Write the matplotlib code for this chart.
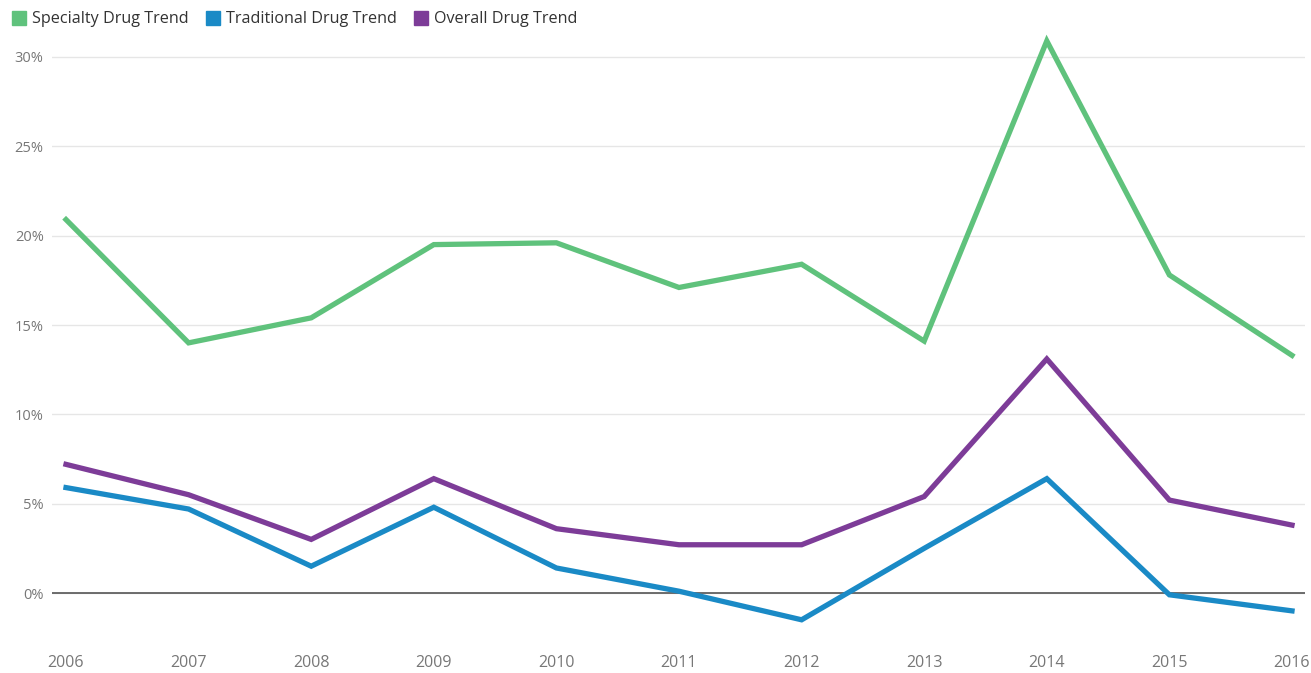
import numpy as np
import matplotlib.pyplot as plt
from matplotlib.lines import Line2D

# values (percent)
years = [2006, 2007, 2008, 2009, 2010, 2011, 2012, 2013, 2014, 2015, 2016]
specialty = [20.9, 14.0, 15.4, 19.5, 19.6, 17.1, 18.4, 14.1, 30.9, 17.8, 13.3]
traditional = [5.9, 4.7, 1.5, 4.8, 1.4, 0.1, -1.5, 2.5, 6.4, -0.1, -1.0]
overall = [7.2, 5.5, 3.0, 6.4, 3.6, 2.7, 2.7, 5.4, 13.1, 5.2, 3.8]
series_names = ["Specialty Drug Trend", "Traditional Drug Trend", "Overall Drug Trend"]
colors = ["#5fc27c", "#1a8ac6", "#7d3c98"]

plt.rcParams['font.family'] = ['Open Sans', 'DejaVu Sans']

fig = plt.figure(figsize=(13.11, 6.73), dpi=100)
ax = fig.add_axes([52/1311, 1-645/673, (1305-52)/1311, (645-30)/673])

for vals, c in zip([specialty, traditional, overall], colors):
    ax.plot(years, vals, color=c, lw=3.8, solid_joinstyle='miter', zorder=3)

ax.set_xlim(2006 - 14/122.6, 2016 + 13/122.6)
ax.set_ylim(-(645-593)/17.867, 30 + (57-30)/17.867)

ax.set_yticks(np.arange(0, 31, 5))
ax.set_yticklabels(["%d%%" % v for v in range(0, 31, 5)])
ax.set_xticks(years)
ax.set_xticklabels([str(y) for y in years])

ax.grid(axis='y', color='#e6e6e6', lw=1)
ax.axhline(0, color='#555555', lw=1.2, zorder=2)
for s in ax.spines.values():
    s.set_visible(False)
ax.tick_params(length=0, labelcolor='#777777')
ax.tick_params(axis='y', pad=6, labelsize=10.5)
ax.tick_params(axis='x', pad=7, labelsize=11.5)

handles = [Line2D([], [], marker='s', ls='none', color=c, markersize=10) for c in colors]
fig.legend(handles, series_names, loc='upper left', bbox_to_anchor=(0.0, 1.0),
           ncol=3, frameon=False, fontsize=11.6, handletextpad=0.3,
           handlelength=1.0, columnspacing=1.0, labelcolor='#333333',
           borderaxespad=0.5, borderpad=0.2)

fig.savefig("out.png", dpi=100)
